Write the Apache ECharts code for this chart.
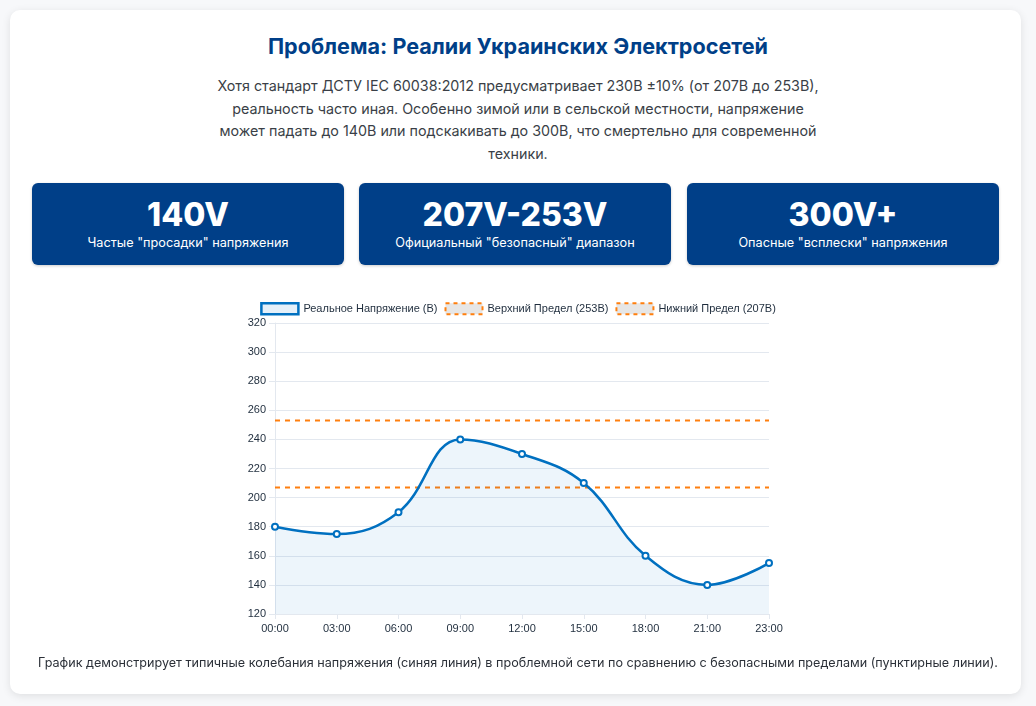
<!DOCTYPE html>
<html><head><meta charset="utf-8">
<script src="https://cdn.jsdelivr.net/npm/echarts@6/dist/echarts.min.js"></script>
<style>
html,body{margin:0;padding:0;width:1036px;height:706px;background:#f7f8fa;overflow:hidden;font-family:Inter,"Noto Sans",sans-serif;}
#card{position:absolute;left:10px;top:10px;width:1011px;height:684px;background:#fff;border-radius:10px;box-shadow:0 2px 8px rgba(0,0,0,0.10);}
h1{position:absolute;left:0;top:33px;width:1036px;margin:0;text-align:center;font-size:21.6px;font-weight:700;color:#003f88;line-height:26px;}
#desc{position:absolute;left:210px;top:75px;width:616px;text-align:center;font-size:14.3px;line-height:22.5px;color:#3a3f47;margin:0;}
.stat{position:absolute;top:183px;width:312px;height:82px;background:#003f88;border-radius:6px;color:#fff;text-align:center;box-shadow:0 1px 3px rgba(0,0,0,0.2);}
.stat .big{position:absolute;left:0;width:100%;top:13px;font-size:32px;font-weight:800;line-height:38px;}
.stat .small{position:absolute;left:0;width:100%;top:52px;font-size:12.7px;line-height:16px;}
#chart{position:absolute;left:0;top:0;width:1036px;height:706px;}
#foot{position:absolute;left:0;top:654px;width:1036px;text-align:center;font-size:12.6px;color:#2b3038;line-height:18px;}
</style></head>
<body>
<div id="card"></div>
<h1>Проблема: Реалии Украинских Электросетей</h1>
<p id="desc">Хотя стандарт ДСТУ IEC 60038:2012 предусматривает 230В ±10% (от 207В до 253В), реальность часто иная. Особенно зимой или в сельской местности, напряжение может падать до 140В или подскакивать до 300В, что смертельно для современной техники.</p>
<div class="stat" style="left:32px"><div class="big">140V</div><div class="small">Частые "просадки" напряжения</div></div>
<div class="stat" style="left:359px"><div class="big">207V-253V</div><div class="small">Официальный "безопасный" диапазон</div></div>
<div class="stat" style="left:687px"><div class="big">300V+</div><div class="small">Опасные "всплески" напряжения</div></div>
<div id="chart"></div>
<div id="foot">График демонстрирует типичные колебания напряжения (синяя линия) в проблемной сети по сравнению с безопасными пределами (пунктирные линии).</div>
<script>
const categories = ["00:00","03:00","06:00","09:00","12:00","15:00","18:00","21:00","23:00"];
const voltage = [180,175,190,240,230,210,160,140,155];
const upperLimit = [253,253,253,253,253,253,253,253,253];
const lowerLimit = [207,207,207,207,207,207,207,207,207];
const seriesNames = ["Реальное Напряжение (В)","Верхний Предел (253В)","Нижний Предел (207В)"];

const chart = echarts.init(document.getElementById('chart'), null, {renderer:'canvas'});
const txt = '#1f2d3d';
const gridCol = '#e3e8ef';
chart.setOption({
  animation:false,
  textStyle:{fontFamily:'"Liberation Sans", Arial, sans-serif'},
  legend:{
    top:302, left:'center', padding:0, itemWidth:37, itemHeight:11, itemGap:7,
    textStyle:{fontSize:11, color:txt, fontFamily:'"Liberation Sans", Arial, sans-serif'},
    data:[
      {name:seriesNames[0], icon:'rect', itemStyle:{color:'rgba(0,112,192,0.1)', borderColor:'#0070c0', borderWidth:2.5}},
      {name:seriesNames[1], icon:'rect', itemStyle:{color:'#e6e6e6', borderColor:'#ff7f0e', borderWidth:2, borderType:[4,4]}},
      {name:seriesNames[2], icon:'rect', itemStyle:{color:'#e6e6e6', borderColor:'#ff7f0e', borderWidth:2, borderType:[4,4]}}
    ]
  },
  grid:{left:275, right:267, top:323, height:291, containLabel:false},
  xAxis:{
    type:'category', data:categories, boundaryGap:false,
    axisLine:{lineStyle:{color:gridCol}},
    axisTick:{show:true, length:5, lineStyle:{color:gridCol}, alignWithLabel:true},
    axisLabel:{color:txt, fontSize:11, margin:9},
    splitLine:{show:false}
  },
  yAxis:{
    type:'value', min:120, max:320, interval:20,
    axisLine:{show:true, lineStyle:{color:gridCol}},
    axisTick:{show:true, length:6, lineStyle:{color:gridCol}},
    axisLabel:{color:txt, fontSize:11, margin:9},
    splitLine:{lineStyle:{color:gridCol}}
  },
  series:[
    {name:seriesNames[0], type:'line', data:voltage, smooth:0.4, z:3,
     symbol:'emptyCircle', symbolSize:6,
     lineStyle:{color:'#0070c0', width:2.5},
     itemStyle:{color:'#0070c0', borderColor:'#0070c0', borderWidth:1},
     areaStyle:{color:'rgba(0,112,192,0.1)', origin:'start'}},
    {name:seriesNames[1], type:'line', data:upperLimit, symbol:'none', z:2,
     lineStyle:{color:'#ff7f0e', width:2, type:[5,5]}, itemStyle:{color:'#ff7f0e'}},
    {name:seriesNames[2], type:'line', data:lowerLimit, symbol:'none', z:2,
     lineStyle:{color:'#ff7f0e', width:2, type:[5,5]}, itemStyle:{color:'#ff7f0e'}}
  ]
});
</script>
</body></html>
